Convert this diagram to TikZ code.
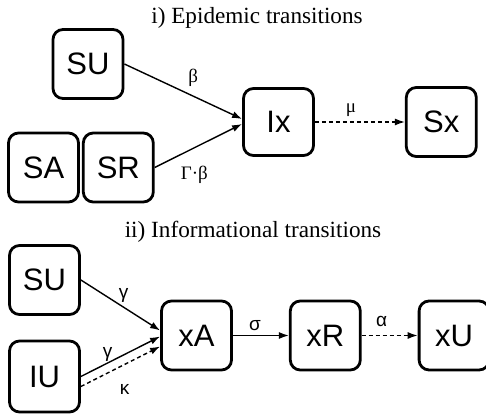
\documentclass[tikz,border=0pt]{standalone}
\usepackage{fontspec}
\setmainfont{Liberation Serif}
\newfontfamily\boxfont{Liberation Sans}
\usetikzlibrary{arrows.meta,positioning}

\begin{document}
\begin{tikzpicture}[
    x=1pt, y=1pt,
    node distance=56pt and 56pt,
    statebox/.style={rectangle, draw, line width=2.8pt, rounded corners=10pt, minimum width=70pt, minimum height=69pt, inner sep=0pt, font=\boxfont\fontsize{31}{33}\selectfont},
    heading/.style={font=\fontsize{23.2}{25}\selectfont},
    rate/.style={font=\fontsize{19}{21}\selectfont, inner sep=0pt},
    irate/.style={rate, font=\boxfont\fontsize{19}{21}\selectfont},
    arrow/.style={-{Latex[length=10pt,width=7pt]}, line width=1.4pt},
    dasharrow/.style={arrow, dash pattern=on 4pt off 3pt}
]
    \useasboundingbox (0,0) rectangle (486,414);

    % i) epidemic transitions
    \node[heading] (epi) at (257,396) {i) Epidemic transitions};
    \node[statebox] (su1) at (88,350) {SU};
    \node[statebox] (sa) at (43.5,246.5) {SA};
    \node[statebox, right=2pt of sa] (sr) {SR};
    \node[statebox, minimum height=67pt] (ix) at (278.5,292) {Ix};
    \node[statebox, right=90pt of ix] (sx) {Sx};

    \draw[arrow] (su1.east) -- node[rate, midway, xshift=10pt, yshift=14pt] {β} ([yshift=3pt]ix.west);
    \draw[arrow] (sr.east) -- node[rate, midway, xshift=-4pt, yshift=-29pt] {Γ·β} ([yshift=-2pt]ix.west);
    \draw[dasharrow] (ix) -- node[rate, midway, xshift=-9pt, yshift=12pt] {μ} (sx);

    % ii) informational transitions
    \node[heading] (info) at (253,182) {ii) Informational transitions};
    \node[statebox] (su2) at (44.5,134) {SU};
    \node[statebox, minimum height=71pt] (iu) at (44.5,37.5) {IU};
    \node[statebox] (xa) at (196.5,78.5) {xA};
    \node[statebox, right=of xa] (xr) {xR};
    \node[statebox, right=of xr] (xu) {xU};

    \draw[arrow] (su2.east) -- node[irate, midway, xshift=3pt, yshift=10pt] {γ} ([yshift=5pt]xa.west);
    \draw[arrow] (iu.east) -- node[irate, midway, xshift=-13pt, yshift=2pt] {γ} ([yshift=-1pt]xa.west);
    \draw[dasharrow] ([yshift=-10pt]iu.east) -- node[irate, midway, xshift=4pt, yshift=-23pt] {κ} ([yshift=-11pt]xa.west);
    \draw[arrow] (xa) -- node[irate, midway, xshift=-6pt, yshift=10pt] {σ} (xr);
    \draw[dasharrow] (xr) -- node[irate, midway, xshift=-8pt, yshift=14pt] {α} (xu);
\end{tikzpicture}
\end{document}
